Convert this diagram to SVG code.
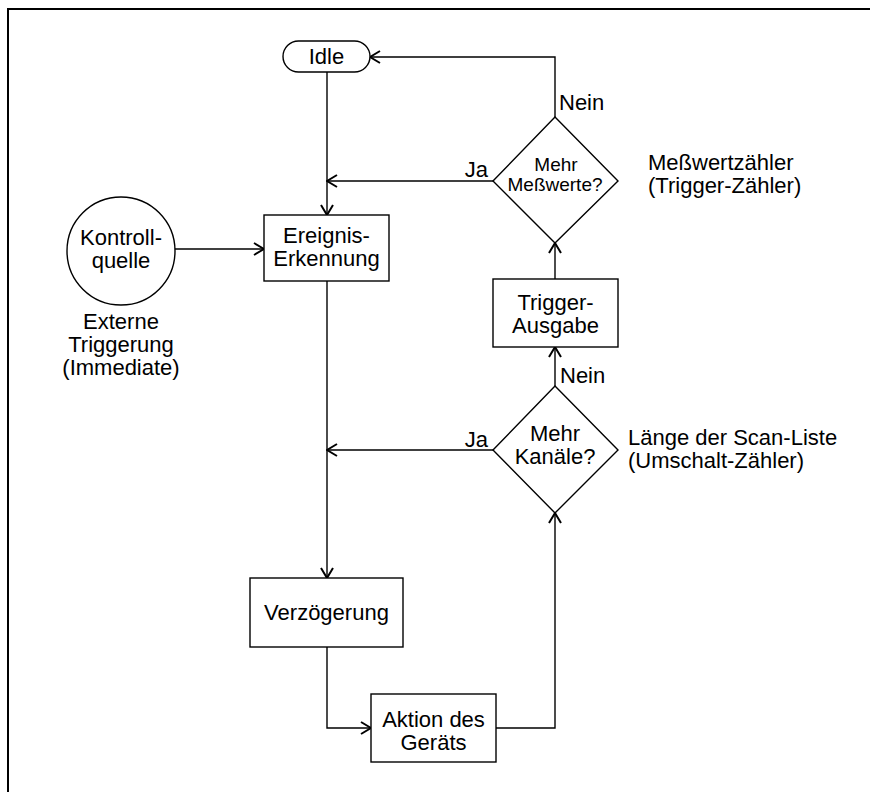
<svg xmlns="http://www.w3.org/2000/svg" width="870" height="792" viewBox="0 0 870 792">
<style>
.box{fill:#fff;stroke:#000;stroke-width:1.4}
.ln{fill:none;stroke:#000;stroke-width:1.4}
.t{font-family:"Liberation Sans",Arial,sans-serif;font-size:22px;fill:#000}
.c{text-anchor:middle}
.e{text-anchor:end}
.s{font-size:19px}
</style>
<defs>
<marker id="arr" markerUnits="userSpaceOnUse" markerWidth="12" markerHeight="14" viewBox="0 0 12 14" refX="11" refY="7" orient="auto">
<path d="M1,1 L11,7 L1,13" fill="none" stroke="#000" stroke-width="2"/>
</marker>
</defs>
<rect width="870" height="792" fill="#fff"/>
<path d="M8,792 L8,9 L870,9" fill="none" stroke="#000" stroke-width="2"/>
<g id="connectors">
<path class="ln" d="M555,117 L555,57 L370,57" marker-end="url(#arr)"/>
<path class="ln" d="M327,72 L327,215" marker-end="url(#arr)"/>
<path class="ln" d="M493,181 L327,181" marker-end="url(#arr)"/>
<path class="ln" d="M175,249 L264,249" marker-end="url(#arr)"/>
<path class="ln" d="M327,281 L327,578" marker-end="url(#arr)"/>
<path class="ln" d="M555,279 L555,243" marker-end="url(#arr)"/>
<path class="ln" d="M555,386 L555,347" marker-end="url(#arr)"/>
<path class="ln" d="M493,450 L327,450" marker-end="url(#arr)"/>
<path class="ln" d="M327,647 L327,728 L371,728" marker-end="url(#arr)"/>
<path class="ln" d="M496,728 L555,728 L555,513" marker-end="url(#arr)"/>
</g>
<g id="idle">
<rect class="box" x="283" y="41" width="87" height="31" rx="15.5"/>
<text class="t c" x="326.5" y="64">Idle</text>
</g>
<g id="kontrollquelle">
<circle class="box" cx="121" cy="251" r="54"/>
<text class="t c" x="121" y="245">Kontroll-<tspan x="121" dy="23">quelle</tspan></text>
<text class="t c" x="121" y="329">Externe<tspan x="121" dy="23">Triggerung</tspan><tspan x="121" dy="23">(Immediate)</tspan></text>
</g>
<g id="ereignis">
<rect class="box" x="264" y="215" width="125" height="66"/>
<text class="t c" x="326.5" y="243">Ereignis-<tspan x="326.5" dy="23">Erkennung</tspan></text>
</g>
<g id="mehr-messwerte">
<polygon class="box" points="555,117 618,181 555,243 493,181"/>
<text class="t c s" x="556" y="171">Mehr<tspan x="555" dy="20">Meßwerte?</tspan></text>
<text class="t" x="559" y="110">Nein</text>
<text class="t e" x="488" y="177">Ja</text>
<text class="t" x="648" y="170">Meßwertzähler<tspan x="648" dy="23">(Trigger-Zähler)</tspan></text>
</g>
<g id="trigger-ausgabe">
<rect class="box" x="493" y="279" width="125" height="68"/>
<text class="t c" x="555.5" y="310">Trigger-<tspan x="555.5" dy="23">Ausgabe</tspan></text>
</g>
<g id="mehr-kanaele">
<polygon class="box" points="555,386 618,450 555,513 493,450"/>
<text class="t c" x="555" y="441">Mehr<tspan x="555" dy="23">Kanäle?</tspan></text>
<text class="t" x="560" y="383">Nein</text>
<text class="t e" x="488" y="447">Ja</text>
<text class="t" x="628" y="445">Länge der Scan-Liste<tspan x="628" dy="23">(Umschalt-Zähler)</tspan></text>
</g>
<g id="verzoegerung">
<rect class="box" x="250" y="578" width="153" height="69"/>
<text class="t c" x="326.5" y="620">Verzögerung</text>
</g>
<g id="aktion">
<rect class="box" x="371" y="694" width="125" height="68"/>
<text class="t c" x="433.5" y="727">Aktion des<tspan x="433.5" dy="23">Geräts</tspan></text>
</g>
</svg>
